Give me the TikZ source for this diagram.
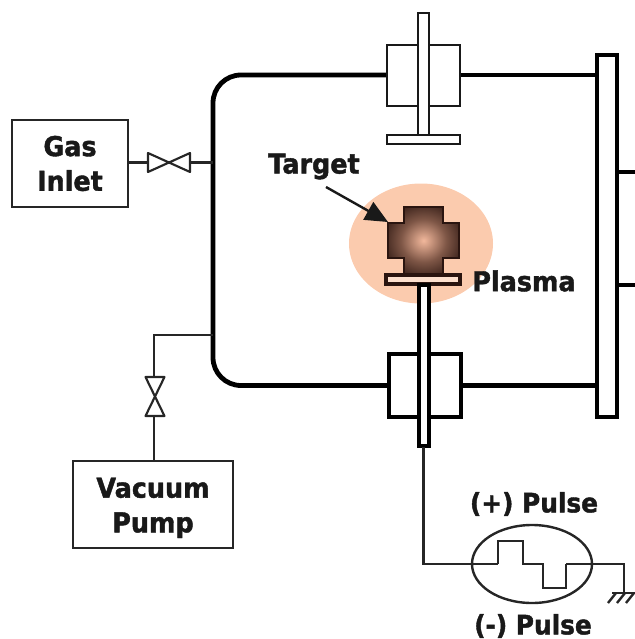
\documentclass[tikz,border=0pt]{standalone}
\usepackage{fontspec}
\setmainfont{DejaVu Sans}
\newfontfamily\lblfont{DejaVu Sans Bold}[FakeBold=1.5,FakeStretch=0.93]
\usetikzlibrary{arrows.meta}
\definecolor{plasmac}{HTML}{FBCBAE}
\definecolor{glowc}{HTML}{F2B89C}
\definecolor{glowm}{HTML}{7E5646}
\definecolor{glowd}{HTML}{2A1510}
\pgfdeclareradialshading{glow}{\pgfpoint{0bp}{0bp}}{color(0bp)=(glowc); color(16bp)=(glowm); color(32bp)=(glowd); color(50bp)=(glowd)}
\begin{document}
\begin{tikzpicture}[x=0.75pt,y=-0.75pt,
  pipe/.style={draw=black!85,line width=1.8pt},
  wall/.style={draw=black,line width=3.6pt},
  valve/.style={draw=black!85,line width=1.6pt,line join=round,fill=white},
  lightpart/.style={draw=black!90,line width=1.9pt,fill=white},
  heavypart/.style={draw=black,line width=3pt,fill=white},
  lbl/.style={font=\lblfont\fontsize{20.5}{26}\selectfont,align=center,inner sep=0pt,text=black!90},
  pulselbl/.style={font=\lblfont\fontsize{20}{24}\selectfont,inner sep=0pt,text=black!90},
  boxn/.style={draw=black!85,line width=1.9pt,fill=white,inner sep=0pt,lbl}]
\useasboundingbox (0,0) rectangle (635,639);
% plasma
\fill[plasmac] (421,243.5) ellipse (72 and 60);
% named points
\coordinate (tf) at (387,75);
\coordinate (tfr) at (460,75);
\coordinate (bf) at (389,385.5);
\coordinate (bfr) at (461,385.5);
\coordinate (rt) at (597,75);
\coordinate (rb) at (597,385.5);
\coordinate (wg) at (213,162.5);
\coordinate (wv) at (213,335);
\coordinate (vc) at (154,335);
\coordinate (gl) at (148,162.5);
\coordinate (gr) at (190,162.5);
\coordinate (vt) at (154,377);
\coordinate (vb) at (154,416);
\coordinate (rodend) at (423.5,447);
\coordinate (corner) at (423.5,564);
\coordinate (pstart) at (498,564);
\coordinate (pend) at (566,564);
\coordinate (gc) at (624,564);
\coordinate (gd) at (624,593);
\coordinate (tgt) at (388,222);
\coordinate (tgs) at (326,187);
% chamber
\draw[wall,rounded corners=21pt] (tf) -- (213,75) -- (213,385.5) -- (bf);
\draw[wall] (tfr) -- (rt);
\draw[wall] (bfr) -- (rb);
% side window
\draw[heavypart] (640,172) -- (617,172) -- (617,285) -- (640,285);
% right flange
\draw[wall,fill=white] (597,55) rectangle (617,417);
% gas inlet
\node[boxn,minimum width=87pt,minimum height=65pt] (gas) at (70,163.5) {Gas\\Inlet};
\draw[pipe] (gas.east |- gl) -- (gl);
\draw[pipe] (gr) -- (wg);
\draw[valve] (148,153) -- (190,172) -- (190,153) -- (148,172) -- cycle;
% vacuum
\node[boxn,minimum width=120pt,minimum height=65pt] (pump) at (153,504.5) {\rule{0pt}{20pt}Vacuum\\Pump};
\draw[pipe] (wv) -- (vc) -- (vt);
\draw[pipe] (vb) -- (pump.north -| vb);
\draw[valve] (145.5,377) -- (164.5,416) -- (145.5,416) -- (164.5,377) -- cycle;
% top feedthrough
\draw[lightpart] (387,45) rectangle (460,106);
\draw[lightpart] (418,13) rectangle (429,135);
\draw[lightpart] (387,135) rectangle (460,144);
% bottom feedthrough
\draw[heavypart] (389,354) rectangle (461,417);
% target
\path[shading=glow,draw=glowd,line width=1.5pt]
  (404,207) -- (443,207) -- (443,223) -- (459,223) -- (459,258) -- (443,258) -- (443,274)
  -- (404,274) -- (404,258) -- (388,258) -- (388,223) -- (404,223) -- cycle;
\draw[draw=glowd,line width=3pt,fill=plasmac!60!white] (386,274.5) rectangle (460,284);
\draw[heavypart] (418.5,285) rectangle (429,446);
% arrow
\draw[draw=black!90,line width=1.8pt,-{Triangle[length=17pt,width=15pt]}] (tgs) -- (tgt);
% pulse circuit
\draw[pipe] (rodend) -- (corner) -- (pstart);
\draw[pipe,line width=2.2pt,line join=miter] (pstart) -- (498,541) -- (523,541) -- (523,564) -- (543,564) -- (543,588) -- (566,588) -- (pend);
\draw[pipe] (pend) -- (gc) -- (gd);
\draw[pipe] (532,564) ellipse (60 and 39);
\draw[pipe] (612,593) -- (635,593);
\draw[pipe] (616,593) -- (608,603) (625,593) -- (617,603) (634,593) -- (626,603);
% labels
\node[lbl] (targetlbl) at (314,166.5) {Target};
\node[lbl] (plasmalbl) at (524,281) {Plasma};
\node[pulselbl] (pp) at (534,504) {(+) Pulse};
\node[pulselbl] (mp) at (533,626) {(-) Pulse};
\end{tikzpicture}
\end{document}
